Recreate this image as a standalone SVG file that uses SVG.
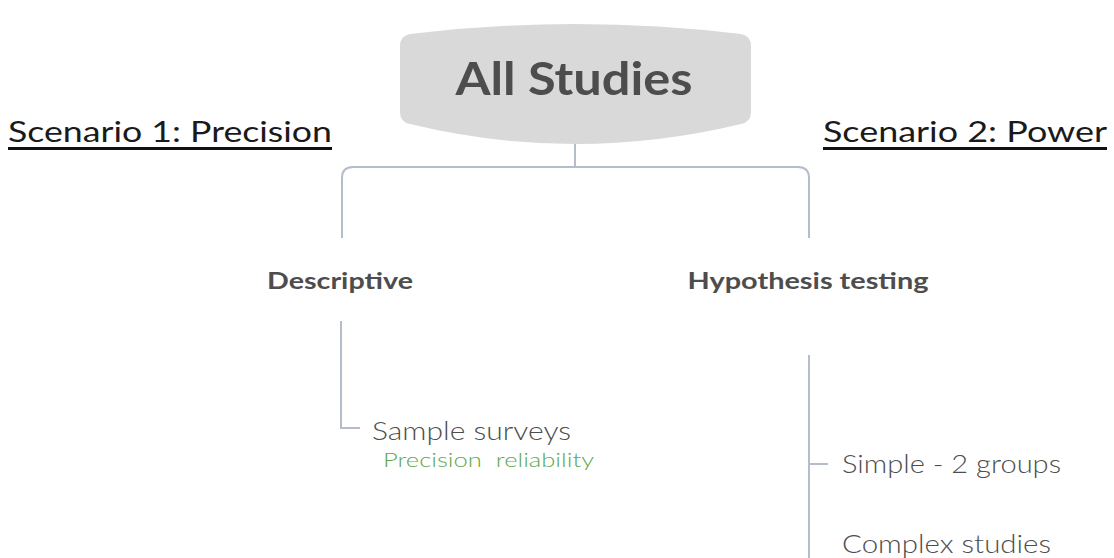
<svg xmlns="http://www.w3.org/2000/svg" width="1114" height="558" viewBox="0 0 1114 558">
<style>
.t{font-family:Lato,"Noto Sans","Liberation Sans",sans-serif;fill:#4d4d4d;font-weight:300}
.b{font-weight:bold}
.c{fill:none;stroke:#b5bdcb;stroke-width:2}
.sc{font-family:Lato,"Noto Sans","Liberation Sans",sans-serif;fill:#1a1a1a;font-size:29px;font-weight:400}
.ul{stroke:#111;stroke-width:3}
</style>
<rect width="1114" height="558" fill="#fff"/>
<g id="connectors">
<path class="c" d="M575 143 V167"/>
<path class="c" d="M342 238 V178 Q342 167 353 167 H798 Q809 167 809 178 V238"/>
<path class="c" d="M341 321 V428 H360"/>
<path class="c" d="M809 355 V558"/>
<path class="c" d="M809 464 H828"/>
</g>
<g id="scenario1"><text class="sc" x="8" y="142" textLength="324" lengthAdjust="spacingAndGlyphs">Scenario 1: Precision</text><line class="ul" x1="8" y1="148.5" x2="332" y2="148.5"/></g>
<g id="scenario2"><text class="sc" x="823" y="142" textLength="284" lengthAdjust="spacingAndGlyphs">Scenario 2: Power</text><line class="ul" x1="823" y1="148.5" x2="1107" y2="148.5"/></g>
<g id="all-studies">
<path d="M410 34 Q575 14 741 34 Q751 36 751 46 V112 Q751 122 741 124 Q575 164 410 124 Q400 122 400 112 V46 Q400 36 410 34 Z" fill="#d9d9d9"/>
<text class="t b" x="574" y="95" font-size="46" text-anchor="middle" textLength="237" lengthAdjust="spacingAndGlyphs">All Studies</text>
</g>
<g id="descriptive"><text class="t b" x="340" y="289" font-size="22" text-anchor="middle" textLength="146" lengthAdjust="spacingAndGlyphs">Descriptive</text></g>
<g id="hypothesis"><text class="t b" x="808" y="289" font-size="22" text-anchor="middle" textLength="241" lengthAdjust="spacingAndGlyphs">Hypothesis testing</text></g>
<g id="sample-surveys">
<text class="t" x="372" y="440" font-size="25" textLength="199" lengthAdjust="spacingAndGlyphs">Sample surveys</text>
<text x="383" y="467" font-size="20" font-weight="300" xml:space="preserve" style="white-space:pre" font-family="Lato,'Noto Sans','Liberation Sans',sans-serif" fill="#5fa84a" textLength="211" lengthAdjust="spacingAndGlyphs">Precision  reliability</text>
</g>
<g id="simple"><text class="t" x="842" y="473" font-size="25" textLength="219" lengthAdjust="spacingAndGlyphs">Simple - 2 groups</text></g>
<g id="complex"><text class="t" x="842" y="553" font-size="25" textLength="209" lengthAdjust="spacingAndGlyphs">Complex studies</text></g>
</svg>
